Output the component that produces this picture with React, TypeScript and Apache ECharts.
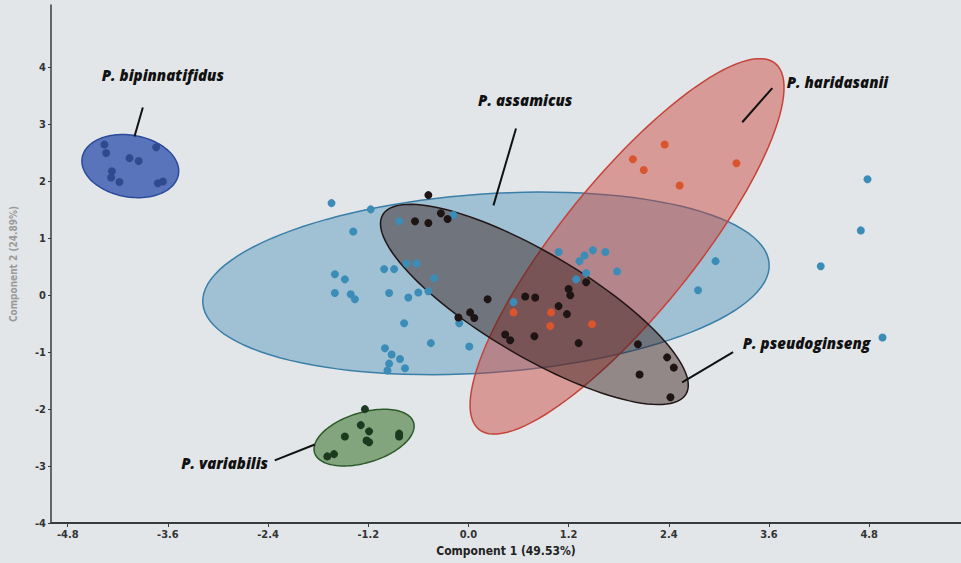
import React, { useEffect, useRef } from 'react';
import * as echarts from 'echarts';

// Tick labels
const xTicks = [-4.8, -3.6, -2.4, -1.2, 0, 1.2, 2.4, 3.6, 4.8];
const yTicks = [-4, -3, -2, -1, 0, 1, 2, 3, 4];

// PCA scores [Component 1, Component 2]
const bipinnatifidus = [
  [-4.36, 2.65], [-4.34, 2.5], [-4.06, 2.41], [-3.95, 2.36], [-3.74, 2.6],
  [-4.27, 2.18], [-4.28, 2.07], [-4.18, 1.99], [-3.72, 1.97], [-3.66, 2.0],
];
const variabilis = [
  [-1.24, -2.0], [-1.29, -2.28], [-1.19, -2.39], [-1.48, -2.48], [-1.22, -2.55],
  [-1.19, -2.58], [-0.83, -2.43], [-0.83, -2.48], [-1.69, -2.83], [-1.61, -2.79],
];
const assamicus = [
  [-1.64, 1.62], [-1.17, 1.51], [-1.38, 1.12], [-0.83, 1.3], [-0.18, 1.41],
  [-1.6, 0.37], [-1.48, 0.28], [-1.01, 0.46], [-0.89, 0.46], [-0.74, 0.56],
  [-0.62, 0.56], [-1.6, 0.04], [-1.41, 0.02], [-1.36, -0.07], [-0.95, 0.04],
  [-0.72, -0.04], [-0.6, 0.05], [-0.41, 0.3], [-0.48, 0.07], [-0.77, -0.49],
  [-0.45, -0.84], [0.01, -0.9], [-0.11, -0.49], [-1.0, -0.93], [-0.92, -1.04],
  [-0.82, -1.12], [-0.95, -1.2], [-0.97, -1.32], [-0.76, -1.28], [1.08, 0.76],
  [1.33, 0.6], [1.39, 0.7], [1.49, 0.79], [1.64, 0.76], [1.78, 0.42],
  [1.29, 0.28], [1.41, 0.39], [0.54, -0.12], [4.78, 2.04], [4.7, 1.14],
  [4.22, 0.51], [2.96, 0.6], [2.75, 0.09], [4.96, -0.74],
];
const pseudoginseng = [
  [-0.48, 1.76], [-0.64, 1.3], [-0.48, 1.27], [-0.33, 1.44], [-0.25, 1.34],
  [0.23, -0.07], [-0.12, -0.39], [0.02, -0.3], [0.07, -0.4], [0.68, -0.02],
  [0.8, -0.04], [1.2, 0.11], [1.22, 0.0], [1.41, 0.23], [1.08, -0.19],
  [1.18, -0.33], [0.44, -0.69], [0.5, -0.79], [0.79, -0.72], [1.32, -0.84],
  [2.03, -0.86], [2.05, -1.39], [2.38, -1.09], [2.46, -1.27], [2.42, -1.79],
];
const haridasanii = [
  [2.35, 2.65], [1.97, 2.39], [2.1, 2.2], [2.53, 1.93], [3.21, 2.32],
  [0.54, -0.3], [0.99, -0.3], [0.98, -0.54], [1.48, -0.51],
];

// Confidence ellipses: [centre x, centre y, semi-major, semi-minor (x units), rotation deg]
const ellAssamicus = [0.21, 0.21, 3.4, 1.07, -4];
const ellHaridasanii = [1.9, 0.86, 2.82, 0.8, -51];
const ellPseudoginseng = [0.79, -0.16, 2.11, 0.62, 30.6];
const ellBipinnatifidus = [-4.05, 2.27, 0.585, 0.37, 10];
const ellVariabilis = [-1.25, -2.5, 0.62, 0.3, -17];

// Annotations: label position, leader line start, leader line end
const annotationNames = ['P. bipinnatifidus', 'P. assamicus', 'P. haridasanii', 'P. pseudoginseng', 'P. variabilis'];
const annotationData = [
  [-3.66, 3.87, -3.9, 3.3, -4.0, 2.79],
  [0.68, 3.43, 0.57, 2.93, 0.3, 1.58],
  [4.42, 3.74, 3.64, 3.64, 3.28, 3.04],
  [4.05, -0.83, 3.17, -1.0, 2.56, -1.53],
  [-2.92, -2.95, -2.32, -2.9, -1.84, -2.62],
];

const tickFont = "'Liberation Sans Narrow', 'DejaVu Sans Condensed', 'Liberation Sans', sans-serif";

function ellipseSeries(name: string, params: number[], fill: string, stroke: string) {
  return {
    type: 'custom',
    name,
    coordinateSystem: 'cartesian2d',
    silent: true,
    clip: false,
    data: [params],
    renderItem: (_p: any, api: any) => {
      const c = api.coord([api.value(0), api.value(1)]);
      const unit = api.size([1, 0])[0];
      const a = api.value(2) * unit;
      const b = api.value(3) * unit;
      const th = (api.value(4) * Math.PI) / 180;
      const pts: number[][] = [];
      const n = 120;
      for (let i = 0; i < n; i++) {
        const t = (i / n) * Math.PI * 2;
        const ex = a * Math.cos(t);
        const ey = b * Math.sin(t);
        pts.push([c[0] + ex * Math.cos(th) - ey * Math.sin(th), c[1] + ex * Math.sin(th) + ey * Math.cos(th)]);
      }
      return { type: 'polygon', shape: { points: pts }, style: { fill, stroke, lineWidth: 1.5 } };
    },
  };
}

function scatterSeries(name: string, data: number[][], color: string) {
  return {
    type: 'scatter',
    name,
    data,
    symbolSize: 8,
    itemStyle: { color, opacity: 1 },
    z: 5,
    silent: true,
  };
}

export default function App() {
  const ref = useRef<HTMLDivElement>(null);
  useEffect(() => {
    if (!ref.current) return;
    const chart = echarts.init(ref.current, null, { renderer: 'svg' });
    chart.setOption({
      animation: false,
      backgroundColor: '#e2e6e9',
      grid: { left: 47, right: 0, top: 5, bottom: 40, containLabel: false },
      xAxis: {
        type: 'value',
        min: -5,
        max: 5.9,
        name: 'Component 1 (49.53%)',
        nameLocation: 'middle',
        nameGap: 22,
        nameTextStyle: { fontFamily: tickFont, fontWeight: 'bold', fontSize: 12, color: '#222' },
        axisLine: { show: true, onZero: false, lineStyle: { color: '#3a3a3a', width: 2 } },
        axisTick: { show: true, customValues: xTicks, length: 4, lineStyle: { color: '#3a3a3a', width: 1 } },
        axisLabel: {
          customValues: xTicks,
          formatter: (v: number) => v.toFixed(1),
          fontFamily: tickFont,
          fontWeight: 'bold',
          fontSize: 11,
          color: '#333',
          margin: 6,
        },
        splitLine: { show: false },
      },
      yAxis: {
        type: 'value',
        min: -4,
        max: 5.1,
        name: 'Component 2 (24.89%)',
        nameLocation: 'middle',
        nameGap: 33,
        nameRotate: 90,
        nameTextStyle: { fontFamily: tickFont, fontWeight: 'bold', fontSize: 10, color: '#9a9a9a' },
        axisLine: { show: true, onZero: false, lineStyle: { color: '#3a3a3a', width: 1.5 } },
        axisTick: { show: true, customValues: yTicks, length: 3, lineStyle: { color: '#3a3a3a', width: 1 } },
        axisLabel: {
          customValues: yTicks,
          fontFamily: tickFont,
          fontWeight: 'bold',
          fontSize: 11,
          color: '#333',
          margin: 5,
        },
        splitLine: { show: false },
      },
      series: [
        ellipseSeries('P. assamicus', ellAssamicus, 'rgba(70,140,180,0.42)', '#3a7fa8'),
        ellipseSeries('P. haridasanii', ellHaridasanii, 'rgba(205,62,50,0.45)', '#c5433a'),
        ellipseSeries('P. pseudoginseng', ellPseudoginseng, 'rgba(55,30,28,0.47)', '#221616'),
        ellipseSeries('P. bipinnatifidus', ellBipinnatifidus, '#5a74bb', '#2b4a9a'),
        ellipseSeries('P. variabilis', ellVariabilis, '#82a57d', '#2d5a2a'),
        scatterSeries('P. assamicus', assamicus, '#3b8db8'),
        scatterSeries('P. haridasanii', haridasanii, '#d9552e'),
        scatterSeries('P. pseudoginseng', pseudoginseng, '#1e1414'),
        scatterSeries('P. bipinnatifidus', bipinnatifidus, '#2f4b8f'),
        scatterSeries('P. variabilis', variabilis, '#1b3a1e'),
        {
          type: 'custom',
          name: 'labels',
          coordinateSystem: 'cartesian2d',
          silent: true,
          clip: false,
          z: 6,
          data: annotationData,
          renderItem: (p: any, api: any) => {
            const lp = api.coord([api.value(0), api.value(1)]);
            const s = api.coord([api.value(2), api.value(3)]);
            const e = api.coord([api.value(4), api.value(5)]);
            return {
              type: 'group',
              children: [
                {
                  type: 'line',
                  shape: { x1: s[0], y1: s[1], x2: e[0], y2: e[1] },
                  style: { stroke: '#111', lineWidth: 2 },
                },
                {
                  type: 'text',
                  style: {
                    text: annotationNames[p.dataIndex],
                    x: lp[0],
                    y: lp[1],
                    align: 'center',
                    verticalAlign: 'middle',
                    fontFamily: "'Open Sans', Lato, sans-serif",
                    fontWeight: 800,
                    fontStyle: 'italic',
                    fontSize: 15,
                    fill: '#111',
                  },
                },
              ],
            };
          },
        },
      ],
    });
    return () => chart.dispose();
  }, []);
  return <div ref={ref} style={{ position: 'absolute', left: 0, top: 0, width: 961, height: 563 }} />;
}
